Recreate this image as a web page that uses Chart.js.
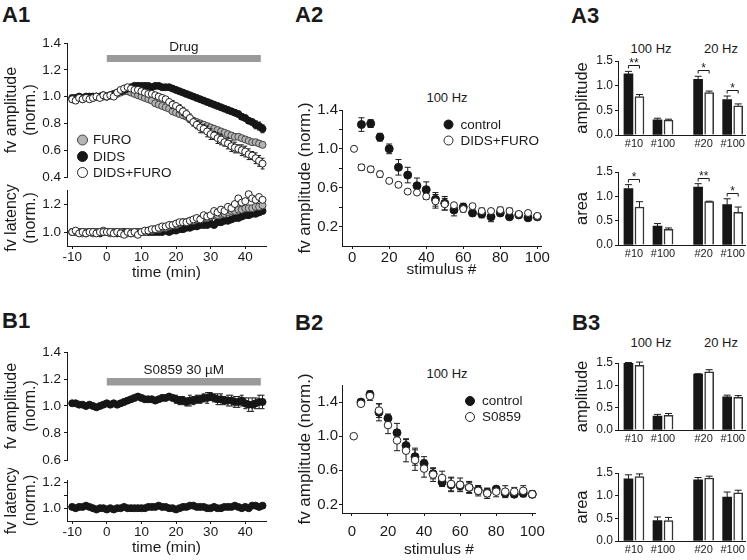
<!DOCTYPE html>
<html>
<head>
<meta charset="utf-8">
<script src="https://cdn.jsdelivr.net/npm/chart.js@4.4.1/dist/chart.umd.min.js"></script>
<style>
  html, body { margin: 0; padding: 0; background: #fff; }
  #fig { position: relative; width: 747px; height: 560px; overflow: hidden; font-family: "Liberation Sans", Arial, sans-serif; color: #1a1a1a; }
  canvas { position: absolute; }
  .lbl { position: absolute; font-weight: bold; font-size: 22px; line-height: 22px; }
  .hdr { position: absolute; font-size: 13px; line-height: 13px; transform: translateX(-50%); white-space: nowrap; }
</style>
</head>
<body>
<div id="fig">
  <div class="lbl" style="left:2px;top:4px">A1</div>
  <div class="lbl" style="left:295px;top:4px">A2</div>
  <div class="lbl" style="left:571px;top:5px">A3</div>
  <div class="lbl" style="left:2px;top:310px">B1</div>
  <div class="lbl" style="left:295px;top:312px">B2</div>
  <div class="lbl" style="left:572px;top:312px">B3</div>
  <div class="hdr" style="left:447px;top:91px">100 Hz</div>
  <div class="hdr" style="left:651px;top:42px">100 Hz</div>
  <div class="hdr" style="left:721px;top:42px">20 Hz</div>
  <div class="hdr" style="left:447px;top:367px">100 Hz</div>
  <div class="hdr" style="left:651px;top:336px">100 Hz</div>
  <div class="hdr" style="left:721px;top:336px">20 Hz</div>
</div>
<script>
// ---- time course data (A1, B1), one point per minute ----
const timeMin = [-10, -9, -8, -7, -6, -5, -4, -3, -2, -1,
  0, 1, 2, 3, 4, 5, 6, 7, 8, 9,
  10, 11, 12, 13, 14, 15, 16, 17, 18, 19,
  20, 21, 22, 23, 24, 25, 26, 27, 28, 29,
  30, 31, 32, 33, 34, 35, 36, 37, 38, 39,
  40, 41, 42, 43, 44, 45];
const timeTicks = [-10, 0, 10, 20, 30, 40];
const drugSpan = [0, 44.5];

const a1AmpFuro = [0.98, 0.98, 0.99, 0.98, 0.99, 0.99, 0.99, 1.00, 1.00, 1.00,
  1.00, 1.01, 1.01, 1.02, 1.03, 1.04, 1.04, 1.03, 1.02, 1.01,
  1.00, 0.99, 0.98, 0.97, 0.95, 0.94, 0.93, 0.92, 0.91, 0.89,
  0.88, 0.87, 0.86, 0.85, 0.83, 0.82, 0.81, 0.80, 0.79, 0.78,
  0.77, 0.76, 0.75, 0.74, 0.73, 0.72, 0.71, 0.70, 0.70, 0.69,
  0.68, 0.67, 0.66, 0.66, 0.65, 0.64];
const a1AmpFuroErr = [0.01, 0.01, 0.01, 0.01, 0.01, 0.01, 0.01, 0.01, 0.01, 0.01,
  0.01, 0.01, 0.01, 0.01, 0.01, 0.01, 0.01, 0.01, 0.01, 0.01,
  0.01, 0.01, 0.01, 0.01, 0.01, 0.01, 0.01, 0.01, 0.01, 0.01,
  0.02, 0.02, 0.02, 0.02, 0.02, 0.02, 0.02, 0.02, 0.02, 0.02,
  0.02, 0.02, 0.02, 0.02, 0.02, 0.02, 0.02, 0.02, 0.02, 0.02,
  0.02, 0.02, 0.02, 0.02, 0.02, 0.02];
const a1AmpDids = [0.99, 0.99, 1.00, 0.99, 1.00, 1.00, 1.00, 1.00, 1.00, 1.01,
  1.00, 1.01, 1.02, 1.03, 1.04, 1.05, 1.06, 1.07, 1.08, 1.08,
  1.08, 1.08, 1.08, 1.07, 1.08, 1.08, 1.07, 1.07, 1.07, 1.06,
  1.05, 1.04, 1.03, 1.02, 1.01, 1.00, 0.99, 0.98, 0.97, 0.96,
  0.95, 0.94, 0.93, 0.92, 0.91, 0.90, 0.89, 0.88, 0.87, 0.85,
  0.84, 0.82, 0.81, 0.79, 0.78, 0.76];
const a1AmpDidsErr = [0.01, 0.01, 0.01, 0.01, 0.01, 0.01, 0.01, 0.01, 0.01, 0.01,
  0.01, 0.01, 0.01, 0.01, 0.01, 0.01, 0.01, 0.01, 0.01, 0.01,
  0.01, 0.01, 0.01, 0.01, 0.01, 0.01, 0.01, 0.01, 0.01, 0.01,
  0.01, 0.01, 0.01, 0.01, 0.01, 0.01, 0.01, 0.01, 0.01, 0.01,
  0.02, 0.02, 0.02, 0.02, 0.02, 0.02, 0.02, 0.02, 0.02, 0.02,
  0.02, 0.02, 0.02, 0.03, 0.03, 0.03];
const a1AmpBoth = [0.98, 0.97, 0.99, 0.98, 0.99, 0.98, 0.99, 1.00, 0.99, 1.01,
  1.00, 1.01, 1.00, 1.03, 1.05, 1.06, 1.07, 1.06, 1.05, 1.05,
  1.04, 1.03, 1.02, 1.02, 1.01, 1.00, 0.99, 0.98, 0.96, 0.94,
  0.93, 0.91, 0.89, 0.87, 0.84, 0.81, 0.79, 0.77, 0.76, 0.74,
  0.72, 0.71, 0.69, 0.68, 0.66, 0.65, 0.63, 0.62, 0.61, 0.60,
  0.59, 0.57, 0.56, 0.54, 0.52, 0.50];
const a1AmpBothErr = [0.01, 0.01, 0.01, 0.01, 0.01, 0.01, 0.01, 0.01, 0.01, 0.01,
  0.01, 0.01, 0.01, 0.01, 0.01, 0.01, 0.01, 0.01, 0.01, 0.01,
  0.01, 0.01, 0.01, 0.01, 0.01, 0.01, 0.02, 0.02, 0.02, 0.03,
  0.02, 0.03, 0.03, 0.03, 0.03, 0.03, 0.03, 0.04, 0.03, 0.04,
  0.04, 0.03, 0.04, 0.04, 0.03, 0.04, 0.04, 0.04, 0.03, 0.04,
  0.04, 0.04, 0.03, 0.04, 0.04, 0.04];

const a1LatFuro = [1.00, 1.00, 1.00, 0.99, 1.00, 1.00, 0.99, 1.00, 1.00, 1.01,
  1.00, 0.99, 1.00, 1.00, 1.00, 0.99, 0.99, 1.00, 0.99, 1.00,
  1.00, 1.00, 1.01, 1.01, 1.02, 1.02, 1.03, 1.03, 1.04, 1.05,
  1.05, 1.06, 1.07, 1.07, 1.08, 1.08, 1.09, 1.09, 1.10, 1.10,
  1.11, 1.12, 1.12, 1.13, 1.13, 1.14, 1.15, 1.15, 1.16, 1.16,
  1.17, 1.17, 1.17, 1.18, 1.18, 1.19];
const a1LatDids = [1.00, 1.00, 1.00, 1.00, 0.99, 1.00, 1.00, 1.00, 0.99, 1.00,
  1.00, 1.00, 1.00, 0.99, 1.00, 1.00, 1.00, 0.99, 1.00, 1.00,
  1.00, 1.00, 1.00, 1.00, 1.00, 1.00, 1.00, 1.01, 1.00, 1.01,
  1.01, 1.02, 1.02, 1.03, 1.03, 1.04, 1.04, 1.05, 1.05, 1.05,
  1.06, 1.05, 1.07, 1.07, 1.08, 1.08, 1.09, 1.10, 1.10, 1.11,
  1.12, 1.12, 1.13, 1.13, 1.14, 1.15];
const a1LatBoth = [1.00, 1.01, 0.99, 1.00, 0.99, 1.00, 1.00, 0.99, 1.00, 1.00,
  1.00, 1.00, 0.99, 1.00, 0.99, 0.98, 1.00, 0.99, 1.00, 0.98,
  1.00, 1.01, 1.01, 1.02, 1.02, 1.03, 1.04, 1.04, 1.05, 1.05,
  1.06, 1.07, 1.07, 1.07, 1.08, 1.09, 1.10, 1.09, 1.12, 1.11,
  1.12, 1.15, 1.14, 1.16, 1.15, 1.18, 1.17, 1.20, 1.24, 1.21,
  1.22, 1.27, 1.24, 1.23, 1.25, 1.23];

const b1Amp = [1.02, 1.02, 1.01, 1.01, 1.00, 1.01, 1.00, 0.99, 1.00, 1.01,
  1.02, 1.01, 1.02, 1.01, 1.02, 1.03, 1.04, 1.05, 1.06, 1.07,
  1.06, 1.05, 1.05, 1.05, 1.04, 1.05, 1.06, 1.06, 1.07, 1.06,
  1.05, 1.04, 1.04, 1.03, 1.04, 1.04, 1.05, 1.05, 1.06, 1.06,
  1.07, 1.06, 1.05, 1.05, 1.04, 1.04, 1.04, 1.03, 1.03, 1.04,
  1.02, 1.01, 1.01, 1.02, 1.03, 1.03];
const b1AmpErr = [0.01, 0.01, 0.01, 0.01, 0.01, 0.01, 0.01, 0.01, 0.01, 0.01,
  0.01, 0.02, 0.02, 0.02, 0.02, 0.02, 0.02, 0.02, 0.02, 0.02,
  0.02, 0.02, 0.02, 0.02, 0.02, 0.02, 0.02, 0.02, 0.02, 0.02,
  0.03, 0.03, 0.03, 0.03, 0.04, 0.03, 0.03, 0.03, 0.03, 0.04,
  0.03, 0.03, 0.04, 0.04, 0.03, 0.04, 0.04, 0.04, 0.04, 0.04,
  0.04, 0.05, 0.05, 0.04, 0.05, 0.05];
const b1Lat = [1.01, 1.00, 1.01, 1.01, 1.02, 1.01, 1.00, 0.99, 1.00, 1.00,
  0.99, 1.00, 0.99, 1.00, 1.00, 1.01, 1.00, 1.00, 1.00, 1.00,
  1.00, 1.00, 1.01, 1.01, 1.01, 1.02, 1.01, 1.01, 1.00, 1.00,
  0.99, 1.00, 1.01, 1.01, 1.02, 1.02, 1.01, 1.01, 1.01, 1.00,
  1.00, 1.01, 1.00, 1.00, 1.01, 1.01, 1.01, 1.02, 1.01, 1.00,
  1.01, 1.00, 1.02, 1.02, 1.01, 1.02];

// ---- train data (A2, B2) ----
const stimCtrl = [5, 10, 15, 20, 25, 30, 35, 40, 45, 50, 55, 60, 65, 70, 75, 80, 85, 90, 95, 100];
const stimDrug = [1, 5, 10, 15, 20, 25, 30, 35, 40, 45, 50, 55, 60, 65, 70, 75, 80, 85, 90, 95, 100];
const stimTicks = [0, 20, 40, 60, 80, 100];

const a2Ctrl = [1.25, 1.26, 1.12, 1.00, 0.81, 0.73, 0.62, 0.58, 0.48, 0.44, 0.37, 0.40, 0.34, 0.33, 0.30, 0.34, 0.30, 0.32, 0.29, 0.30];
const a2CtrlErr = [0.07, 0.04, 0.04, 0.05, 0.08, 0.08, 0.08, 0.08, 0.07, 0.07, 0.06, 0.04, 0.03, 0.04, 0.05, 0.03, 0.02, 0.02, 0.02, 0.02];
const a2Drug = [1.00, 0.81, 0.79, 0.74, 0.67, 0.63, 0.56, 0.55, 0.51, 0.46, 0.43, 0.42, 0.38, 0.41, 0.36, 0.36, 0.37, 0.36, 0.33, 0.34, 0.31];
const a2DrugErr = [0, 0.03, 0.03, 0.03, 0.02, 0.02, 0.02, 0.02, 0.03, 0.07, 0.06, 0.02, 0.03, 0.02, 0.03, 0.02, 0.03, 0.03, 0.02, 0.02, 0.02];

const b2Ctrl = [1.40, 1.49, 1.28, 1.21, 1.04, 0.89, 0.76, 0.68, 0.56, 0.46, 0.43, 0.42, 0.40, 0.37, 0.34, 0.38, 0.33, 0.32, 0.33, 0.32];
const b2CtrlErr = [0.02, 0.04, 0.10, 0.05, 0.11, 0.08, 0.10, 0.08, 0.06, 0.05, 0.08, 0.05, 0.06, 0.05, 0.05, 0.03, 0.04, 0.03, 0.04, 0.03];
const b2Drug = [1.00, 1.38, 1.47, 1.30, 1.13, 0.95, 0.83, 0.72, 0.62, 0.55, 0.51, 0.44, 0.43, 0.40, 0.36, 0.33, 0.35, 0.35, 0.35, 0.36, 0.32];
const b2DrugErr = [0, 0.03, 0.05, 0.08, 0.10, 0.12, 0.13, 0.12, 0.10, 0.08, 0.08, 0.08, 0.08, 0.07, 0.06, 0.06, 0.06, 0.07, 0.05, 0.06, 0.04];

// ---- bar data (A3, B3) ----
const barLabels = ['#10', '#100', '#20', '#100'];
const barPos = [0, 1, 2.4, 3.4];

const a3AmpCtrl = [1.24, 0.31, 1.13, 0.72];
const a3AmpCtrlErr = [0.05, 0.03, 0.06, 0.07];
const a3AmpDrug = [0.78, 0.30, 0.86, 0.59];
const a3AmpDrugErr = [0.04, 0.02, 0.03, 0.04];
const a3AmpSig = ['**', '', '*', '*'];
const a3AreaCtrl = [1.16, 0.39, 1.19, 0.83];
const a3AreaCtrlErr = [0.08, 0.05, 0.07, 0.12];
const a3AreaDrug = [0.78, 0.32, 0.89, 0.67];
const a3AreaDrugErr = [0.11, 0.03, 0.01, 0.11];
const a3AreaSig = ['*', '', '**', '*'];

const b3AmpCtrl = [1.49, 0.31, 1.25, 0.74];
const b3AmpCtrlErr = [0.02, 0.04, 0.01, 0.04];
const b3AmpDrug = [1.45, 0.33, 1.30, 0.73];
const b3AmpDrugErr = [0.07, 0.04, 0.05, 0.04];
const b3AreaCtrl = [1.37, 0.45, 1.35, 0.97];
const b3AreaCtrlErr = [0.09, 0.08, 0.05, 0.11];
const b3AreaDrug = [1.42, 0.45, 1.39, 1.06];
const b3AreaDrugErr = [0.06, 0.07, 0.04, 0.06];

// ---- tick values ----
const a1AmpTicks = [0.4, 0.6, 0.8, 1.0, 1.2, 1.4];
const b1AmpTicks = [0.6, 0.8, 1.0, 1.2, 1.4];
const latTicks = [1.0, 1.1, 1.2, 1.3];
const latLabels = [1.0, 1.2];
const trainTicks = [0.2, 0.4, 0.6, 0.8, 1.0, 1.2, 1.4, 1.6];
const trainLabels = [0.2, 0.6, 1.0, 1.4];
const barYTicks = [0, 0.5, 1.0, 1.5];

const FONT = '"Liberation Sans", Arial, Helvetica, sans-serif';
const INK = '#1a1a1a';
Chart.defaults.font.family = FONT;
Chart.defaults.color = INK;
const fig = document.getElementById('fig');

// error bars, drawn under each scatter dataset / on top of bars
function drawErrors(chart, index, upOnly) {
  const ds = chart.data.datasets[index];
  if (!ds.errors) return;
  const meta = chart.getDatasetMeta(index);
  const ys = chart.scales.y;
  const ctx = chart.ctx;
  const cap = ds.errCap || 3;
  ctx.save();
  ctx.strokeStyle = ds.errColor || INK;
  ctx.lineWidth = ds.errWidth || 1;
  meta.data.forEach((el, i) => {
    const e = ds.errors[i];
    if (!e) return;
    const v = ds.data[i].y;
    const yTop = ys.getPixelForValue(v + e);
    const yBot = upOnly ? el.y : ys.getPixelForValue(v - e);
    ctx.beginPath();
    ctx.moveTo(el.x, yBot);
    ctx.lineTo(el.x, yTop);
    ctx.moveTo(el.x - cap, yTop);
    ctx.lineTo(el.x + cap, yTop);
    if (!upOnly) {
      ctx.moveTo(el.x - cap, yBot);
      ctx.lineTo(el.x + cap, yBot);
    }
    ctx.stroke();
  });
  ctx.restore();
}
const errorBars = {
  id: 'errorBars',
  beforeDatasetDraw(chart, args) {
    if (chart.config.type !== 'bar') drawErrors(chart, args.index, false);
  },
  afterDatasetDraw(chart, args) {
    if (chart.config.type === 'bar') drawErrors(chart, args.index, true);
  }
};

// legends, drug bar label and significance brackets
function extrasPlugin(box, extra) {
  return {
    id: 'extras',
    afterDatasetsDraw(chart) {
      const ctx = chart.ctx;
      ctx.save();
      (extra.legend || []).forEach(item => {
        const ds = chart.data.datasets[item.dataset];
        const x = item.x - box.x, y = item.y - box.y;
        ctx.beginPath();
        ctx.arc(x, y, item.r, 0, Math.PI * 2);
        ctx.fillStyle = ds.pointBackgroundColor;
        ctx.fill();
        ctx.lineWidth = 1;
        ctx.strokeStyle = ds.pointBorderColor;
        ctx.stroke();
        ctx.fillStyle = INK;
        ctx.font = item.size + 'px ' + FONT;
        ctx.textAlign = 'left';
        ctx.textBaseline = 'middle';
        ctx.fillText(item.label, item.tx - box.x, y + 0.5);
      });
      if (extra.barText) {
        const t = extra.barText;
        const pts = chart.getDatasetMeta(t.dataset).data;
        ctx.fillStyle = INK;
        ctx.font = t.size + 'px ' + FONT;
        ctx.textAlign = 'center';
        ctx.textBaseline = 'middle';
        ctx.fillText(t.text, (pts[0].x + pts[1].x) / 2, pts[0].y + t.dy);
      }
      if (extra.sig) {
        const ys = chart.scales.y;
        const d0 = chart.data.datasets[0], d1 = chart.data.datasets[1];
        const m0 = chart.getDatasetMeta(0).data, m1 = chart.getDatasetMeta(1).data;
        extra.sig.forEach((mark, i) => {
          if (!mark) return;
          const top = Math.min(ys.getPixelForValue(d0.data[i].y + d0.errors[i]),
                               ys.getPixelForValue(d1.data[i].y + d1.errors[i]));
          const yb = Math.round(top - 6) + 0.5;
          const x0 = m0[i].x, x1 = m1[i].x;
          ctx.strokeStyle = INK;
          ctx.lineWidth = 1;
          ctx.beginPath();
          ctx.moveTo(x0, yb + 3);
          ctx.lineTo(x0, yb);
          ctx.lineTo(x1, yb);
          ctx.lineTo(x1, yb + 3);
          ctx.stroke();
          ctx.fillStyle = INK;
          ctx.font = '12px ' + FONT;
          ctx.textAlign = 'center';
          ctx.textBaseline = 'alphabetic';
          ctx.fillText(mark, (x0 + x1) / 2, yb + 1);
        });
      }
      ctx.restore();
    }
  };
}

// one canvas per panel; box = canvas on the page, area = wanted plot area
function makeChart(box, area, cfg, extra) {
  const cv = document.createElement('canvas');
  cv.width = box.w;
  cv.height = box.h;
  Object.assign(cv.style, { left: box.x + 'px', top: box.y + 'px', width: box.w + 'px', height: box.h + 'px' });
  fig.appendChild(cv);
  const o = cfg.options;
  const xShown = o.scales.x.display !== false;
  o.responsive = false;
  o.devicePixelRatio = 1;
  o.animation = false;
  o.events = [];
  o.layout = { padding: { left: 0, top: area.t - box.y, right: box.x + box.w - area.r, bottom: xShown ? 0 : box.y + box.h - area.b } };
  o.plugins = { legend: { display: false }, tooltip: { enabled: false } };
  o.scales.y.afterFit = s => { s.width = area.l - box.x; };
  if (xShown) o.scales.x.afterFit = s => { s.height = box.y + box.h - area.b; };
  cfg.plugins = [errorBars, extrasPlugin(box, extra || {})];
  return new Chart(cv, cfg);
}

function yAxis(min, max, ticks, labeled, tick, title) {
  return {
    type: 'linear', min, max,
    afterBuildTicks: s => { s.ticks = ticks.map(v => ({ value: v })); },
    ticks: { font: { size: tick.size }, color: INK, padding: tick.pad,
             callback: v => labeled.includes(v) ? v.toFixed(1) : '' },
    grid: { display: true, drawOnChartArea: false, drawTicks: true, tickLength: 3, color: INK, lineWidth: 1 },
    border: { display: true, color: INK, width: 1 },
    title: title ? { display: true, text: title.text, color: INK,
                     font: { size: title.size, lineHeight: title.lh || 1.2 }, padding: { top: title.pad, bottom: 0 } }
                 : { display: false }
  };
}
function xAxis(min, max, ticks, labelOf, tick, title, marks) {
  return {
    type: 'linear', min, max, offset: false,
    afterBuildTicks: s => { s.ticks = ticks.map(v => ({ value: v })); },
    ticks: { font: { size: tick.size }, color: INK, padding: tick.pad, autoSkip: false, maxRotation: 0,
             callback: v => labelOf(v) },
    grid: marks === false ? { display: false, drawTicks: false }
                          : { display: true, drawOnChartArea: false, drawTicks: true, tickLength: 3, color: INK, lineWidth: 1 },
    border: { display: true, color: INK, width: 1 },
    title: title ? { display: true, text: title.text, color: INK, font: { size: title.size }, padding: { top: 0, bottom: title.pad } } : { display: false }
  };
}
function hiddenX(min, max) {
  return { type: 'linear', min, max, display: false };
}

function markers(label, xs, ys, errs, fill, stroke, r, cap) {
  return {
    label, data: xs.map((x, i) => ({ x, y: ys[i] })), errors: errs, errCap: cap,
    pointRadius: r, pointBackgroundColor: fill, pointBorderColor: stroke, pointBorderWidth: 1,
    showLine: false, clip: false
  };
}
function drugBar(span, level, width) {
  return {
    label: 'drug', data: span.map(x => ({ x, y: level })), showLine: true,
    borderColor: '#9a9a9a', borderWidth: width, borderCapStyle: 'butt', pointRadius: 0, clip: false
  };
}
function bars(vals, errs, shift, fill, stroke, bw) {
  return {
    data: barPos.map((p, i) => ({ x: p + shift, y: vals[i] })), errors: errs, errCap: 3.5,
    backgroundColor: fill, borderColor: stroke, borderWidth: bw, borderSkipped: 'bottom',
    barThickness: 9, grouped: false
  };
}

const timeLabel = v => String(v);
const barLabel = v => barLabels[barPos.indexOf(v)] || '';
const ampTitle = { text: ['fv amplitude', '(norm.)'], size: 16, pad: 2 };
const latTitle = { text: ['fv latency', '(norm.)'], size: 16, pad: 2 };

// A1 amplitude
makeChart({ x: 0, y: 30, w: 276, h: 160 }, { l: 67, t: 43, r: 266, b: 177 }, {
  type: 'scatter',
  data: { datasets: [
    markers('DIDS+FURO', timeMin, a1AmpBoth, a1AmpBothErr, '#ffffff', '#222222', 3.5, 2),
    markers('DIDS', timeMin, a1AmpDids, a1AmpDidsErr, '#161616', '#161616', 3.5, 2),
    markers('FURO', timeMin, a1AmpFuro, a1AmpFuroErr, '#b4b4b4', '#444444', 3.5, 2),
    drugBar(drugSpan, 1.285, 7)
  ] },
  options: { scales: {
    x: hiddenX(-11.5, 46),
    y: yAxis(0.4, 1.4, a1AmpTicks, a1AmpTicks, { size: 13.5, pad: 3 }, ampTitle)
  } }
}, {
  legend: [
    { dataset: 2, label: 'FURO', x: 82.5, y: 140, tx: 93, r: 5, size: 13.5 },
    { dataset: 1, label: 'DIDS', x: 82.5, y: 156.5, tx: 93, r: 5, size: 13.5 },
    { dataset: 0, label: 'DIDS+FURO', x: 82.5, y: 172.5, tx: 93, r: 5, size: 13.5 }
  ],
  barText: { dataset: 3, text: 'Drug', size: 13.5, dy: -11 }
});

// A1 latency
makeChart({ x: 0, y: 178, w: 276, h: 106 }, { l: 67, t: 190, r: 266, b: 246 }, {
  type: 'scatter',
  data: { datasets: [
    markers('DIDS+FURO', timeMin, a1LatBoth, null, '#ffffff', '#222222', 3.5, 2),
    markers('FURO', timeMin, a1LatFuro, null, '#b4b4b4', '#444444', 3.5, 2),
    markers('DIDS', timeMin, a1LatDids, null, '#161616', '#161616', 3.5, 2)
  ] },
  options: { scales: {
    x: xAxis(-11.5, 46, timeTicks, timeLabel, { size: 13.5, pad: 0 }, { text: 'time (min)', size: 15.5, pad: 2 }),
    y: yAxis(0.9, 1.3, latTicks, latLabels, { size: 13.5, pad: 3 }, latTitle)
  } }
});

// A2 train
makeChart({ x: 290, y: 95, w: 262, h: 190 }, { l: 342, t: 110, r: 541, b: 246 }, {
  type: 'scatter',
  data: { datasets: [
    markers('DIDS+FURO', stimDrug, a2Drug, a2DrugErr, '#ffffff', '#222222', 3.5, 3),
    markers('control', stimCtrl, a2Ctrl, a2CtrlErr, '#161616', '#161616', 4, 3)
  ] },
  options: { scales: {
    x: xAxis(-5.5, 102, stimTicks, timeLabel, { size: 15, pad: 0 }, { text: 'stimulus #', size: 15.5, pad: 6 }),
    y: yAxis(0, 1.4, trainTicks.slice(0, 7), trainLabels, { size: 15, pad: 1 }, { text: 'fv amplitude (norm.)', size: 17, pad: 5 })
  } }
}, {
  legend: [
    { dataset: 1, label: 'control', x: 448.5, y: 124.5, tx: 460.5, r: 4.5, size: 13.5 },
    { dataset: 0, label: 'DIDS+FURO', x: 448.5, y: 140.5, tx: 460.5, r: 4.5, size: 13.5 }
  ]
});

// A3 amplitude and area
const barY = (min, max, title) => yAxis(min, max, barYTicks, barYTicks, { size: 12, pad: 2 }, { text: title, size: 16.5, pad: 3 });
const barX = () => xAxis(-0.55, 3.85, barPos, barLabel, { size: 11, pad: 2 }, null, false);
makeChart({ x: 570, y: 48, w: 177, h: 107 }, { l: 618, t: 61, r: 746, b: 135 }, {
  type: 'bar',
  data: { datasets: [
    bars(a3AmpCtrl, a3AmpCtrlErr, -0.19, '#161616', '#161616', 0),
    bars(a3AmpDrug, a3AmpDrugErr, 0.19, '#ffffff', '#333333', 1.5)
  ] },
  options: { scales: { x: barX(), y: barY(0, 1.5, 'amplitude') } }
}, { sig: a3AmpSig });
makeChart({ x: 570, y: 160, w: 177, h: 105 }, { l: 618, t: 172, r: 746, b: 245 }, {
  type: 'bar',
  data: { datasets: [
    bars(a3AreaCtrl, a3AreaCtrlErr, -0.19, '#161616', '#161616', 0),
    bars(a3AreaDrug, a3AreaDrugErr, 0.19, '#ffffff', '#333333', 1.5)
  ] },
  options: { scales: { x: barX(), y: barY(0, 1.5, 'area') } }
}, { sig: a3AreaSig });

// B1 amplitude
makeChart({ x: 0, y: 338, w: 276, h: 135 }, { l: 67, t: 352, r: 266, b: 460 }, {
  type: 'scatter',
  data: { datasets: [
    markers('S0859', timeMin, b1Amp, b1AmpErr, '#161616', '#161616', 3.5, 2),
    drugBar(drugSpan, 1.18, 7.5)
  ] },
  options: { scales: {
    x: hiddenX(-11.5, 46),
    y: yAxis(0.6, 1.4, b1AmpTicks, b1AmpTicks, { size: 13.5, pad: 3 }, ampTitle)
  } }
}, {
  barText: { dataset: 1, text: 'S0859 30 µM', size: 13.5, dy: -11.5 }
});

// B1 latency
makeChart({ x: 0, y: 468, w: 276, h: 92 }, { l: 67, t: 480, r: 266, b: 521 }, {
  type: 'scatter',
  data: { datasets: [
    markers('S0859', timeMin, b1Lat, null, '#161616', '#161616', 3.5, 2)
  ] },
  options: { scales: {
    x: xAxis(-11.5, 46, timeTicks, timeLabel, { size: 13.5, pad: 0 }, { text: 'time (min)', size: 15.5, pad: 2.5 }),
    y: yAxis(0.9, 1.22, [1.0, 1.1, 1.2], latLabels, { size: 13.5, pad: 3 }, latTitle)
  } }
});

// B2 train
makeChart({ x: 290, y: 372, w: 262, h: 188 }, { l: 342, t: 385, r: 541, b: 513 }, {
  type: 'scatter',
  data: { datasets: [
    markers('S0859', stimDrug, b2Drug, b2DrugErr, '#ffffff', '#222222', 3.8, 3),
    markers('control', stimCtrl, b2Ctrl, b2CtrlErr, '#161616', '#161616', 4, 3)
  ] },
  options: { scales: {
    x: xAxis(-5.5, 102, stimTicks, timeLabel, { size: 15, pad: 7 }, { text: 'stimulus #', size: 15.5, pad: 1 }),
    y: yAxis(0.1, 1.6, trainTicks, trainLabels, { size: 15, pad: 1 }, { text: 'fv amplitude (norm.)', size: 17, pad: 5 })
  } }
}, {
  legend: [
    { dataset: 1, label: 'control', x: 470, y: 401, tx: 482, r: 4.5, size: 13.5 },
    { dataset: 0, label: 'S0859', x: 470, y: 417, tx: 482, r: 4.5, size: 13.5 }
  ]
});

// B3 amplitude and area
makeChart({ x: 570, y: 350, w: 177, h: 100 }, { l: 618, t: 363, r: 746, b: 430 }, {
  type: 'bar',
  data: { datasets: [
    bars(b3AmpCtrl, b3AmpCtrlErr, -0.19, '#161616', '#161616', 0),
    bars(b3AmpDrug, b3AmpDrugErr, 0.19, '#ffffff', '#333333', 1.5)
  ] },
  options: { scales: { x: barX(), y: barY(0, 1.5, 'amplitude') } }
});
makeChart({ x: 570, y: 460, w: 177, h: 100 }, { l: 618, t: 473, r: 746, b: 541 }, {
  type: 'bar',
  data: { datasets: [
    bars(b3AreaCtrl, b3AreaCtrlErr, -0.19, '#161616', '#161616', 0),
    bars(b3AreaDrug, b3AreaDrugErr, 0.19, '#ffffff', '#333333', 1.5)
  ] },
  options: { scales: { x: barX(), y: barY(0, 1.5, 'area') } }
});
</script>
</body>
</html>
